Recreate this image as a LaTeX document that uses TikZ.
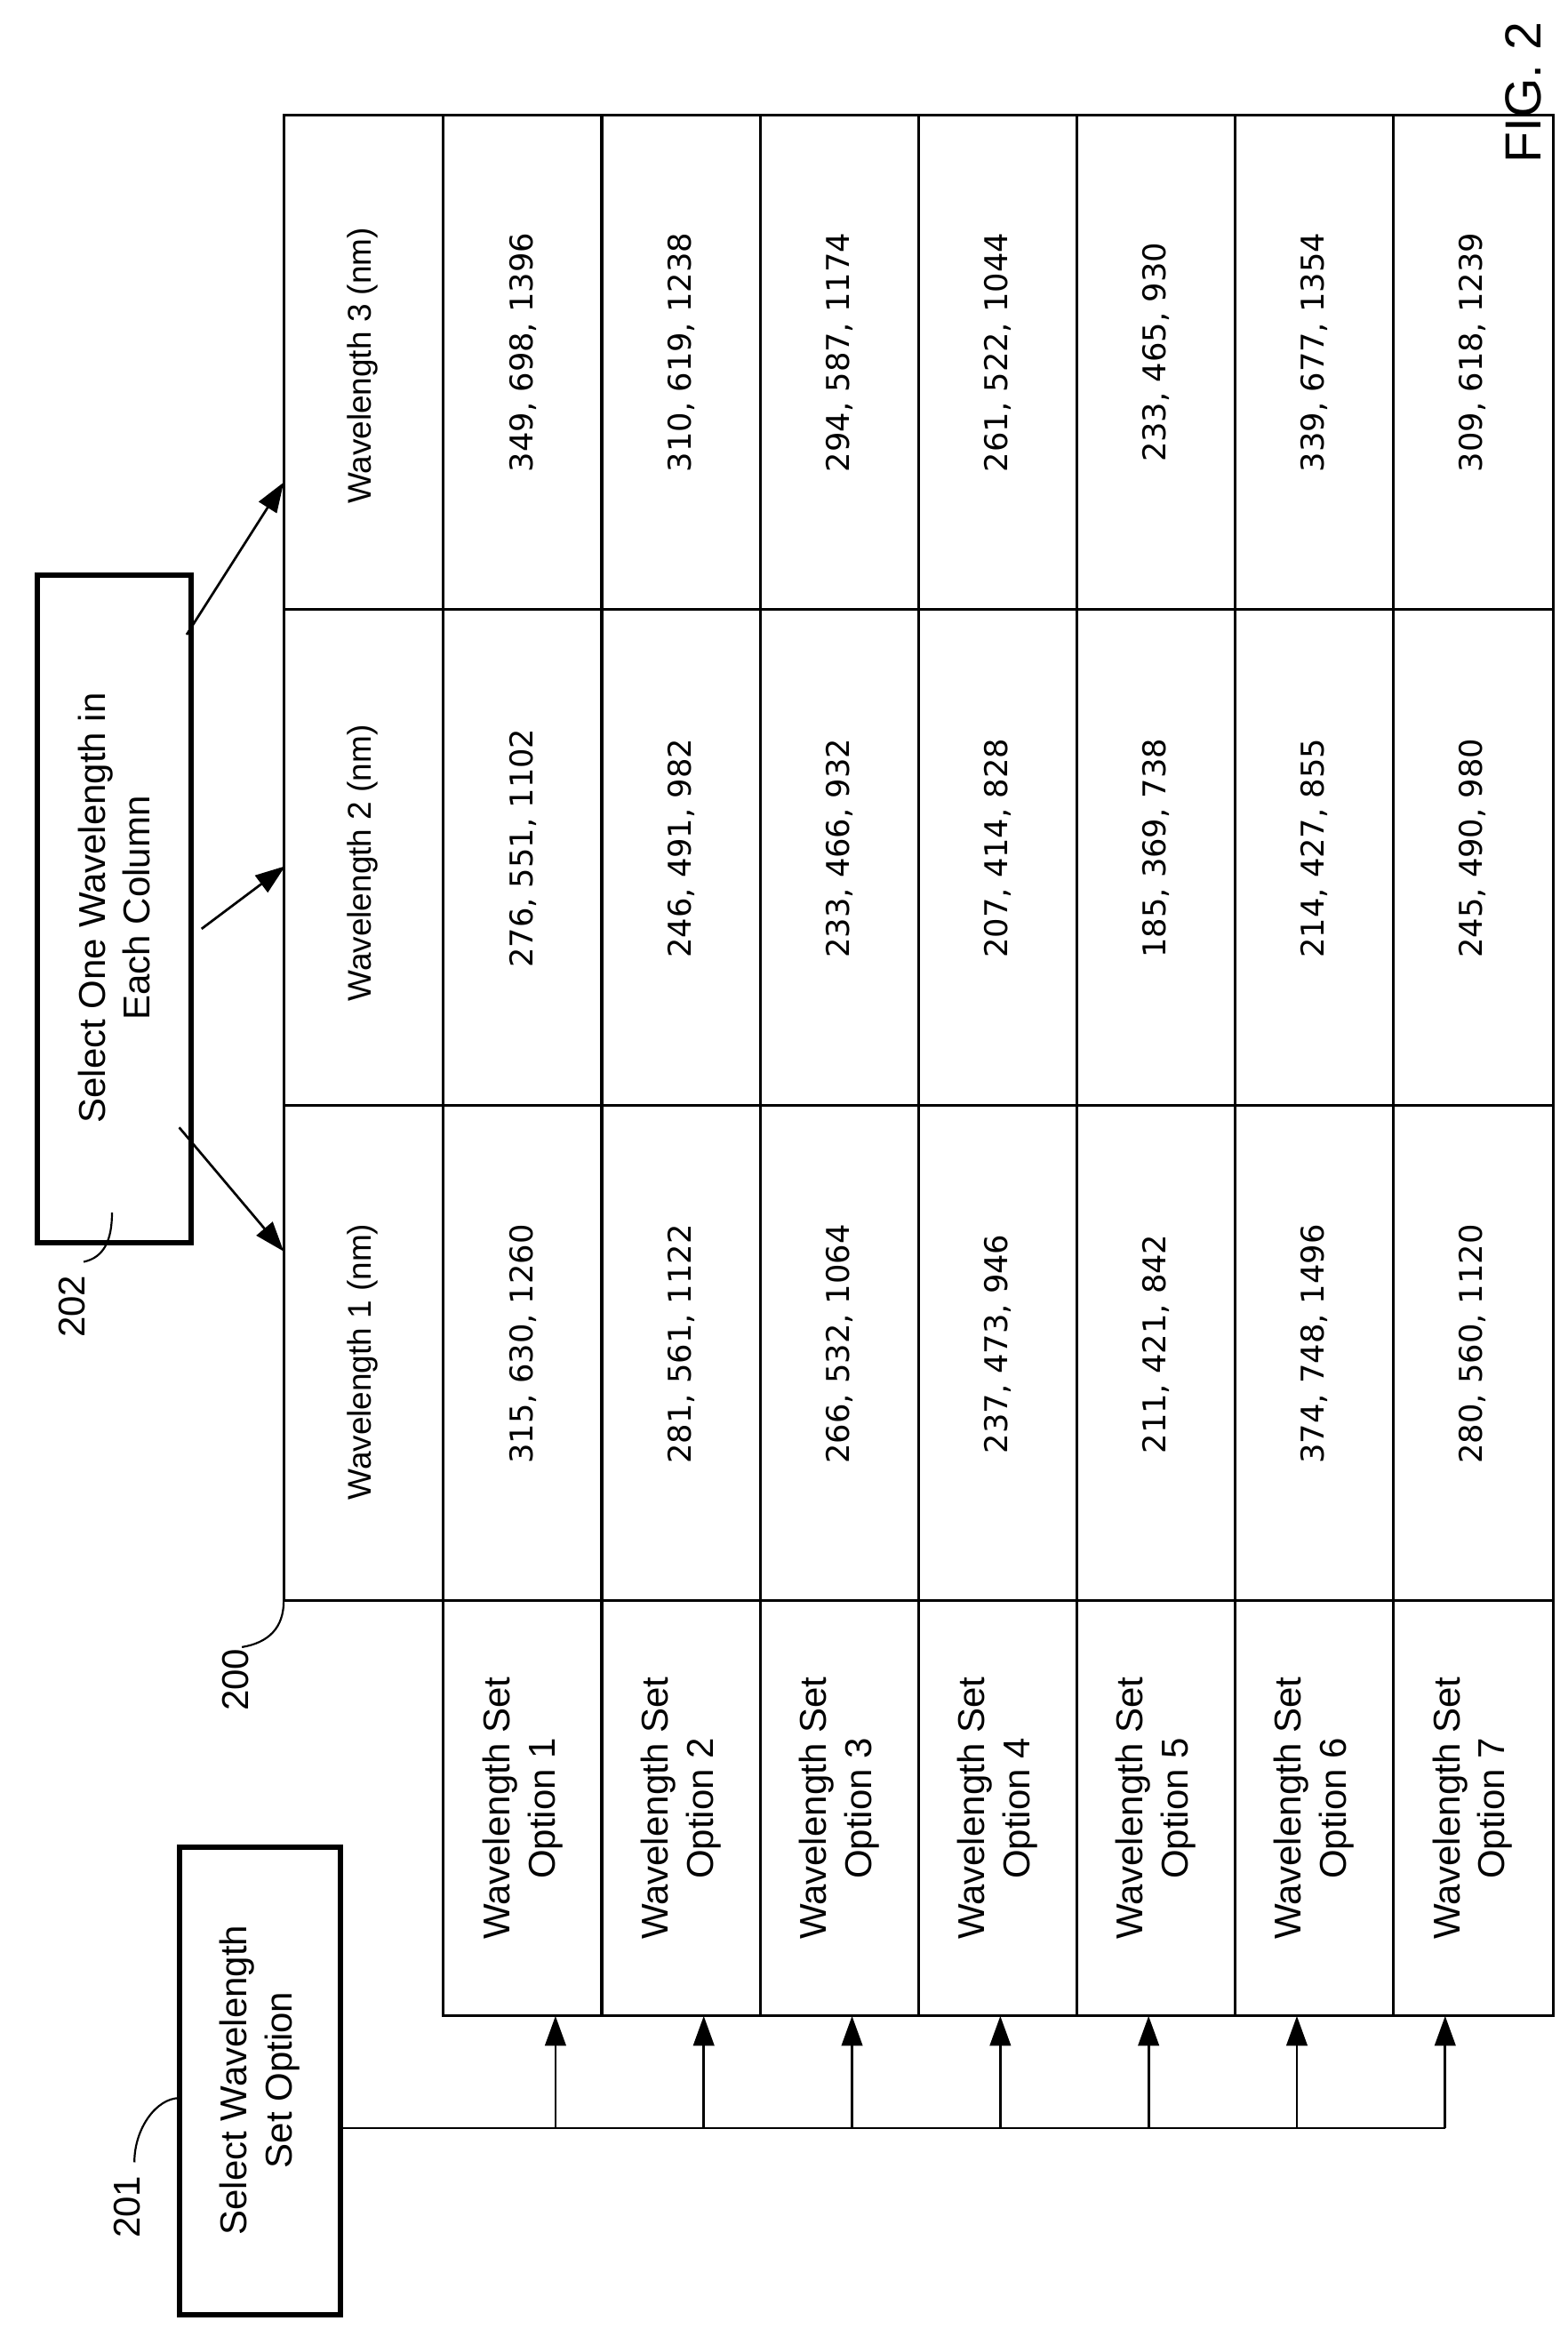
\documentclass[tikz,border=0pt]{standalone}
\usepackage{fontspec}
\setmainfont{Liberation Sans}
\newfontfamily\numfont{DejaVu Sans}
\usetikzlibrary{arrows.meta}
\begin{document}
\begin{tikzpicture}[x=1pt,y=-1pt,
  grid/.style={line width=1.8pt},
  thick box/.style={draw,line width=3.5pt},
  arr/.style={line width=1.6pt,-{Triangle[length=20pt,width=14pt]}},
  lead/.style={line width=1.3pt},
  lbl/.style={rotate=90,font=\fontsize{25}{30}\selectfont,align=center},
  num/.style={rotate=90,font=\numfont\fontsize{21}{25}\selectfont},
  hdr/.style={rotate=90,font=\fontsize{22}{26}\selectfont},
  ref/.style={rotate=90,font=\fontsize{25}{30}\selectfont}]
\useasboundingbox (0,0) rectangle (1050,1565);
% table grid
\draw[grid] (190,77) -- (1040,77) -- (1040,1350) -- (297,1350) -- (297,1072) -- (190,1072) -- cycle;
\foreach \x in {297,403,509,615,721,827,933} \draw[grid] (\x,77) -- (\x,1350);
\foreach \y in {408,740,1072} \draw[grid] (190,\y) -- (1040,\y);
% headers
\node[hdr] (h1) at (243,912) {Wavelength 1 (nm)};
\node[hdr] (h2) at (243,578) {Wavelength 2 (nm)};
\node[hdr] (h3) at (243,245) {Wavelength 3 (nm)};
% data
\foreach \i/\a/\b/\c in {1/{315, 630, 1260}/{276, 551, 1102}/{349, 698, 1396},
 2/{281, 561, 1122}/{246, 491, 982}/{310, 619, 1238},
 3/{266, 532, 1064}/{233, 466, 932}/{294, 587, 1174},
 4/{237, 473, 946}/{207, 414, 828}/{261, 522, 1044},
 5/{211, 421, 842}/{185, 369, 738}/{233, 465, 930},
 6/{374, 748, 1496}/{214, 427, 855}/{339, 677, 1354},
 7/{280, 560, 1120}/{245, 490, 980}/{309, 618, 1239}}{
  \pgfmathsetmacro\cx{350+106*(\i-1)}
  \node[num] (a\i) at (\cx,900) {\a};
  \node[num] (b\i) at (\cx,568) {\b};
  \node[num] (c\i) at (\cx,236) {\c};
  \node[lbl] (o\i) at (\cx,1211) {Wavelength Set\\Option \i};
  \coordinate (t\i) at ({372+99.3*(\i-1)},1350);
}
% box 202
\draw[thick box] (25,385) rectangle (128,832);
\node[lbl] (s202) at (76.5,608) {Select One Wavelength in\\Each Column};
\coordinate (p1) at (120,755); \coordinate (q1) at (190,838);
\coordinate (p2) at (135,622); \coordinate (q2) at (191,580);
\coordinate (p3) at (125,425); \coordinate (q3) at (190,323);
\draw[arr] (p1) -- (q1);
\draw[arr] (p2) -- (q2);
\draw[arr] (p3) -- (q3);
% box 201
\draw[thick box] (120,1237) rectangle (228,1550);
\node[lbl] (s201) at (174,1393) {Select Wavelength\\Set Option};
\coordinate (bus0) at (228,1425);
\coordinate (bus7) at (968,1425);
\draw[line width=1.6pt] (bus0) -- (bus7);
\foreach \i in {1,...,7}{
  \draw[arr] (t\i |- bus0) -- (t\i);
}
% reference labels
\node[ref] (r202) at (48,875) {202};
\draw[lead] (56,845) .. controls (70,842) and (75,830) .. (75,812);
\node[ref] (r200) at (158,1125) {200};
\draw[lead] (162,1103) .. controls (180,1100) and (190,1090) .. (190,1072);
\node[ref] (r201) at (85,1478) {201};
\draw[lead] (90,1448) .. controls (90,1425) and (105,1405) .. (120,1405);
\node[rotate=90,font=\fontsize{34}{40}\selectfont] (fig) at (1020,62) {FIG. 2};
\end{tikzpicture}
\end{document}
